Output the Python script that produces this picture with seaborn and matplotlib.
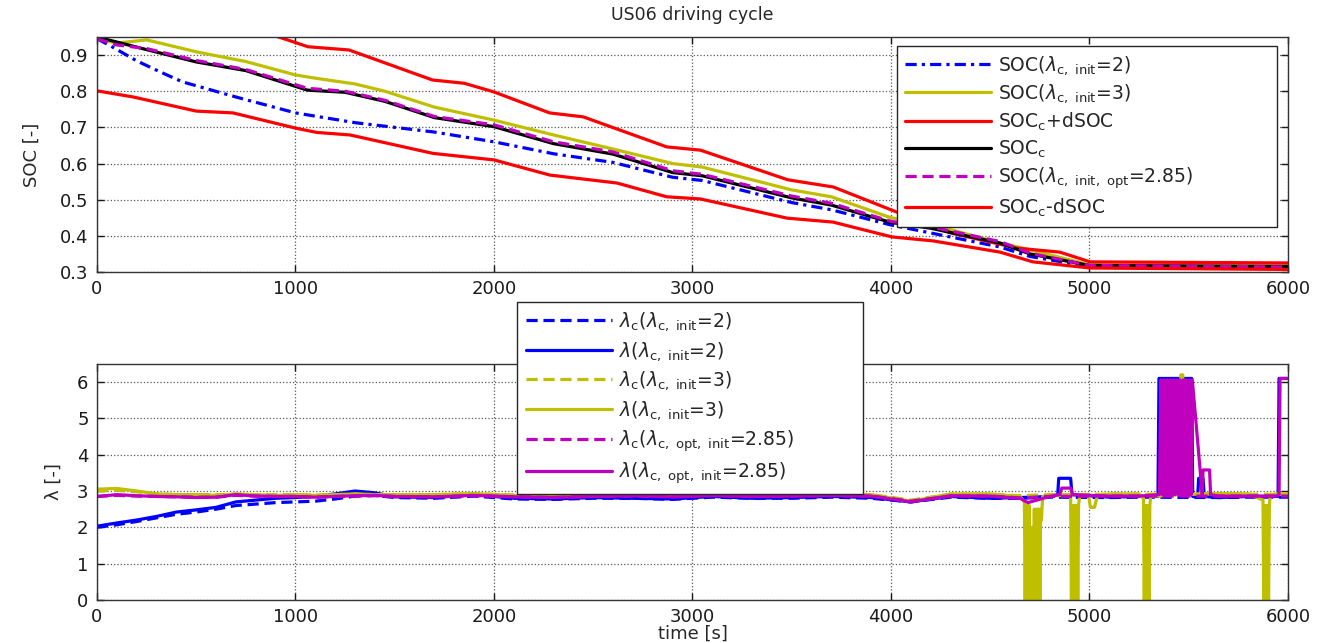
import matplotlib
matplotlib.use("Agg")
import matplotlib.pyplot as plt
import numpy as np
import pandas as pd
import seaborn as sns

# ---------------- SOC panel ----------------
soc_c_t = [0, 250, 500, 750, 1060, 1250, 1450, 1700, 2000, 2300, 2600, 2900, 3050,
           3500, 3700, 4000, 4200, 4550, 4700, 5000, 6000]
soc_c_v = [0.950, 0.915, 0.881, 0.857, 0.803, 0.797, 0.772, 0.727, 0.702, 0.655, 0.626, 0.575, 0.566,
           0.505, 0.485, 0.437, 0.421, 0.380, 0.350, 0.318, 0.315]

soc_opt_t = [0, 100, 250, 500, 750, 1060, 1250, 1450, 1700, 2000, 2300, 2600, 2900, 3050,
             3500, 3700, 4000, 4200, 4550, 4700, 5000, 6000]
soc_opt_v = [0.945, 0.928, 0.918, 0.885, 0.860, 0.808, 0.800, 0.775, 0.730, 0.707, 0.660, 0.632, 0.580, 0.570,
             0.510, 0.490, 0.440, 0.425, 0.384, 0.352, 0.318, 0.314]

soc_i3_t = [0, 100, 250, 500, 750, 1000, 1100, 1300, 1450, 1700, 2000, 2300, 2600, 2900, 3050,
            3500, 3700, 4000, 4200, 4550, 4650, 5000, 6000]
soc_i3_v = [0.945, 0.933, 0.942, 0.909, 0.882, 0.845, 0.836, 0.820, 0.800, 0.756, 0.720, 0.679, 0.640, 0.600, 0.590,
            0.527, 0.508, 0.450, 0.432, 0.380, 0.368, 0.320, 0.318]

soc_i2_t = [0, 60, 200, 320, 430, 700, 1000, 1300, 1700, 2000, 2300, 2600, 2900, 3050,
            3500, 3700, 4000, 4200, 4550, 4700, 5000, 6000]
soc_i2_v = [0.945, 0.928, 0.884, 0.853, 0.826, 0.784, 0.740, 0.713, 0.687, 0.660, 0.627, 0.603, 0.562, 0.553,
            0.492, 0.472, 0.430, 0.408, 0.369, 0.343, 0.315, 0.312]

soc_up_t = [0, 500, 932, 1063, 1270, 1690, 1850, 2000, 2280, 2450, 2870, 3040, 3480, 3710,
            4000, 4300, 4635, 4850, 5003, 6000]
soc_up_v = [1.100, 1.020, 0.947, 0.923, 0.914, 0.831, 0.822, 0.798, 0.740, 0.729, 0.646, 0.637, 0.555, 0.535,
            0.472, 0.408, 0.366, 0.355, 0.328, 0.325]

soc_lo_t = [0, 183, 500, 685, 1000, 1107, 1275, 1693, 2000, 2282, 2620, 2870, 3040, 3476, 3708,
            4005, 4212, 4549, 4715, 5003, 6000]
soc_lo_v = [0.801, 0.784, 0.745, 0.740, 0.698, 0.686, 0.679, 0.628, 0.610, 0.568, 0.546, 0.508, 0.502, 0.449, 0.438,
            0.397, 0.386, 0.355, 0.328, 0.311, 0.307]

# ---------------- lambda panel ----------------
lam_t = [0, 100, 200, 300, 400, 500, 600, 700, 800, 900, 1000, 1100, 1200, 1300, 1400, 1500,
         1700, 1900, 2100, 2300, 2500, 2700, 2900, 3100, 3300, 3500, 3700, 3900, 4100, 4300,
         4500, 4650, 4800, 5100, 5250, 5650, 5800, 5940]

lamc2_v = [2.00, 2.07, 2.16, 2.26, 2.36, 2.42, 2.50, 2.60, 2.64, 2.68, 2.70, 2.72, 2.78, 2.86, 2.88, 2.82,
           2.80, 2.86, 2.78, 2.77, 2.80, 2.80, 2.77, 2.83, 2.80, 2.80, 2.83, 2.80, 2.70, 2.83,
           2.80, 2.80, 2.83, 2.82, 2.83, 2.82, 2.83, 2.83]
lam2_v = [2.03, 2.12, 2.20, 2.30, 2.42, 2.48, 2.55, 2.70, 2.75, 2.80, 2.82, 2.85, 2.92, 3.00, 2.95, 2.84,
          2.82, 2.90, 2.80, 2.78, 2.82, 2.80, 2.78, 2.85, 2.80, 2.82, 2.85, 2.82, 2.70, 2.85,
          2.80, 2.82, 2.85, 2.83, 2.85, 2.82, 2.85, 2.85]
lamc3_v = [3.00, 3.02, 2.98, 2.92, 2.90, 2.90, 2.90, 2.91, 2.90, 2.90, 2.90, 2.89, 2.90, 2.91, 2.90, 2.90,
           2.90, 2.92, 2.89, 2.87, 2.90, 2.91, 2.89, 2.91, 2.89, 2.90, 2.91, 2.90, 2.75, 2.91,
           2.91, 2.87, 2.90, 2.91, 2.91, 2.92, 2.91, 2.91]
lam3_v = [3.05, 3.07, 3.00, 2.92, 2.90, 2.90, 2.88, 2.92, 2.90, 2.88, 2.90, 2.88, 2.90, 2.92, 2.90, 2.90,
          2.90, 2.93, 2.88, 2.85, 2.90, 2.92, 2.88, 2.92, 2.88, 2.90, 2.92, 2.90, 2.72, 2.92,
          2.92, 2.85, 2.90, 2.92, 2.92, 2.93, 2.92, 2.92]
lamc_opt_v = [2.85, 2.88, 2.86, 2.85, 2.84, 2.83, 2.83, 2.88, 2.86, 2.85, 2.85, 2.83, 2.85, 2.86, 2.87, 2.85,
              2.84, 2.87, 2.84, 2.82, 2.85, 2.86, 2.84, 2.87, 2.85, 2.86, 2.87, 2.86, 2.72, 2.86,
              2.86, 2.81, 2.85, 2.86, 2.86, 2.86, 2.86, 2.86]
lam_opt_v = [2.85, 2.90, 2.87, 2.85, 2.84, 2.82, 2.83, 2.90, 2.86, 2.85, 2.85, 2.83, 2.85, 2.87, 2.88, 2.85,
             2.84, 2.88, 2.84, 2.82, 2.85, 2.87, 2.84, 2.88, 2.85, 2.86, 2.88, 2.86, 2.70, 2.87,
             2.86, 2.80, 2.85, 2.86, 2.86, 2.86, 2.86, 2.86]

# events on top of the base traces (spikes and drops, sampled densely as in the plot)
lam2_ev_t = [4840, 4845, 4905, 4912, 5345, 5350, 5515, 5520, 5545, 5550, 5572, 5578, 5950, 5955, 6000]
lam2_ev_v = [2.90, 3.35, 3.35, 2.90, 2.85, 6.10, 6.10, 2.85, 2.85, 3.35, 3.35, 2.85, 2.85, 6.10, 6.10]

lam3_ev_t = [4672, 4676, 4680, 4684, 4688, 4692, 4696,
             4702, 4706, 4710, 4714, 4718, 4722, 4726, 4730, 4734, 4738, 4742, 4746, 4750, 4754, 4758, 4764,
             4905, 4909, 4913, 4917, 4921, 4925, 4929, 4933, 4937, 4941, 4945, 4950,
             4995, 5005, 5025, 5040,
             5272, 5276, 5280, 5284, 5288, 5292, 5296, 5300, 5304, 5308,
             5455, 5460, 5470, 5475,
             5874, 5878, 5882, 5886, 5890, 5894, 5898, 5902, 5906, 5910,
             6000]
lam3_ev_v = [2.70, 0.00, 2.60, 0.00, 2.60, 0.00, 2.60,
             0.00, 2.00, 0.00, 2.00, 0.00, 2.50, 0.00, 2.50, 0.00, 2.50, 0.00, 2.50, 0.00, 2.50, 2.20, 2.85,
             2.85, 0.00, 2.60, 0.00, 2.60, 0.00, 2.60, 0.00, 2.60, 0.00, 2.60, 2.85,
             2.88, 2.55, 2.55, 2.88,
             2.80, 0.00, 2.60, 0.00, 2.60, 0.00, 2.60, 0.00, 2.60, 2.85,
             2.90, 6.20, 6.20, 2.90,
             2.75, 0.00, 2.60, 0.00, 2.60, 0.00, 2.60, 0.00, 2.60, 2.85,
             2.92]

lam_opt_ev_t = [4690, 4850, 4860, 4905, 4915,
                5352, 5360, 5368, 5376, 5384, 5392, 5400, 5408, 5416, 5424, 5432, 5440,
                5448, 5456, 5464, 5472, 5480, 5488, 5496, 5504, 5512, 5518,
                5568, 5572, 5605, 5610, 5955, 5960, 6000]
lam_opt_ev_v = [2.68, 2.90, 3.08, 3.08, 2.90,
                2.90, 6.06, 2.90, 6.06, 2.90, 6.06, 2.90, 6.06, 2.90, 6.06, 2.90, 6.06,
                2.90, 6.06, 2.90, 6.06, 2.90, 6.06, 2.90, 6.06, 2.90, 6.06,
                2.90, 3.58, 3.58, 2.90, 2.90, 6.10, 6.10]

tail_t = [6000]

BLUE = (0, 0, 1)
YELLOW = (0.75, 0.75, 0)
RED = (1, 0, 0)
MAGENTA = (0.75, 0, 0.75)
LW = 2.3


def merged(t_a, v_a, t_b, v_b):
    df = pd.DataFrame({"t": list(t_a) + list(t_b), "v": list(v_a) + list(v_b)})
    return df.sort_values("t", kind="mergesort")


def draw(ax, t, v, color, label, **kw):
    sns.lineplot(x=list(t), y=list(v), ax=ax, color=color, label=label,
                 estimator=None, sort=False, lw=LW, **kw)


def style_axes(ax, ylim, yticks):
    ax.set_xlim(0, 6000)
    ax.set_ylim(*ylim)
    ax.set_xticks(range(0, 6001, 1000))
    ax.set_yticks(yticks)
    ax.grid(True, linestyle=":", color="0.35", linewidth=0.9)
    ax.tick_params(direction="in", length=5, width=1, top=True, right=True,
                   labelsize=13, pad=6, colors="0.1")
    for s in ax.spines.values():
        s.set_color("0.2")
        s.set_linewidth(1.0)


sns.set_theme(style="ticks")
plt.rcParams["font.family"] = ["DejaVu Sans"]
plt.rcParams["mathtext.fontset"] = "dejavusans"

fig = plt.figure(figsize=(13.19, 6.43), dpi=100)
ax1 = fig.add_axes([0.0735, 0.577, 0.903, 0.3655])
ax2 = fig.add_axes([0.0735, 0.067, 0.903, 0.367])

# top panel
draw(ax1, soc_i2_t, soc_i2_v, BLUE, r"SOC($\lambda_{\mathrm{c,\ init}}$=2)", dashes=(3.5, 1.6, 1.0, 1.6))
draw(ax1, soc_i3_t, soc_i3_v, YELLOW, r"SOC($\lambda_{\mathrm{c,\ init}}$=3)")
draw(ax1, soc_up_t, soc_up_v, RED, r"SOC$_\mathrm{c}$+dSOC")
draw(ax1, soc_c_t, soc_c_v, "black", r"SOC$_\mathrm{c}$")
draw(ax1, soc_opt_t, soc_opt_v, MAGENTA, r"SOC($\lambda_{\mathrm{c,\ init,\ opt}}$=2.85)", dashes=(3.5, 1.8))
draw(ax1, soc_lo_t, soc_lo_v, RED, r"SOC$_\mathrm{c}$-dSOC")
style_axes(ax1, (0.3, 0.95), np.arange(0.3, 0.95, 0.1))
ax1.set_yticklabels(["0.3", "0.4", "0.5", "0.6", "0.7", "0.8", "0.9"])
ax1.set_xlabel("")
ax1.set_ylabel("SOC [-]", fontsize=13, labelpad=14)
ax1.set_title("US06 driving cycle", fontsize=12.5, pad=12)
leg1 = ax1.legend(loc="upper left", bbox_to_anchor=(0.672, 0.962, 0.319, 0.0), mode="expand",
                  fontsize=13.5, handlelength=4.6, handletextpad=0.35, labelspacing=0.3,
                  borderpad=0.42, borderaxespad=0, fancybox=False, framealpha=1, edgecolor="0.15")
leg1.get_frame().set_linewidth(1.0)

# bottom panel
d2 = merged(lam_t, lam2_v, lam2_ev_t, lam2_ev_v)
d3 = merged(lam_t, lam3_v, lam3_ev_t, lam3_ev_v)
dopt = merged(lam_t, lam_opt_v, lam_opt_ev_t, lam_opt_ev_v)
draw(ax2, lam_t + tail_t, lamc2_v + [2.83], BLUE, r"$\lambda_\mathrm{c}$($\lambda_{\mathrm{c,\ init}}$=2)", dashes=(3.5, 1.8))
draw(ax2, d2["t"], d2["v"], BLUE, r"$\lambda$($\lambda_{\mathrm{c,\ init}}$=2)")
draw(ax2, lam_t + tail_t, lamc3_v + [2.91], YELLOW, r"$\lambda_\mathrm{c}$($\lambda_{\mathrm{c,\ init}}$=3)", dashes=(3.5, 1.8))
draw(ax2, d3["t"], d3["v"], YELLOW, r"$\lambda$($\lambda_{\mathrm{c,\ init}}$=3)")
draw(ax2, lam_t + tail_t, lamc_opt_v + [2.86], MAGENTA,
     r"$\lambda_\mathrm{c}$($\lambda_{\mathrm{c,\ opt,\ init}}$=2.85)", dashes=(3.5, 1.8))
draw(ax2, dopt["t"], dopt["v"], MAGENTA, r"$\lambda$($\lambda_{\mathrm{c,\ opt,\ init}}$=2.85)")
style_axes(ax2, (0, 6.5), range(0, 7))
ax2.set_xlabel("time [s]", fontsize=13, labelpad=-1)
ax2.set_ylabel("λ [-]", fontsize=13, labelpad=10)
leg2 = ax2.legend(loc="upper left", bbox_to_anchor=(0.353, 1.263, 0.290, 0.0), mode="expand",
                  fontsize=13.5, handlelength=4.6, handletextpad=0.35, labelspacing=0.35,
                  borderpad=0.45, borderaxespad=0, fancybox=False, framealpha=1, edgecolor="0.15")
leg2.get_frame().set_linewidth(1.0)
leg2.set_zorder(5)

fig.savefig("out.png", dpi=100)
